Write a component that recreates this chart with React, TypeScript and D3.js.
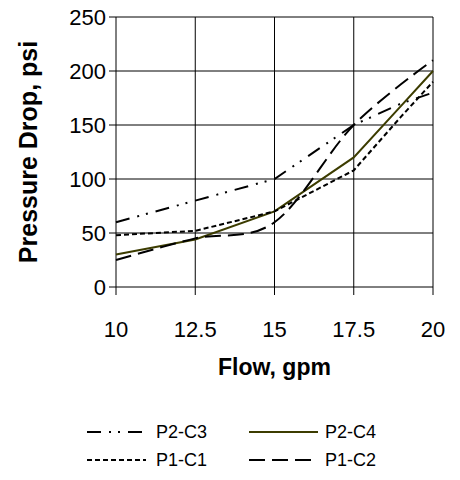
import React from "react";
import * as d3 from "d3";

const xTicks = [10, 12.5, 15, 17.5, 20];
const yTicks = [0, 50, 100, 150, 200, 250];

const p2c3X = [10, 12.5, 15, 17.5, 19, 20];
const p2c3Y = [60, 80, 100, 150, 170, 180];
const p2c4X = [10, 12.5, 15, 17.5, 19, 20];
const p2c4Y = [30, 44, 70, 120, 168, 200];
const p1c1X = [10, 12.5, 15, 17.5, 19, 20];
const p1c1Y = [48, 52, 70, 108, 158, 190];
const p1c2X = [10, 12.5, 15, 17.5, 20];
const p1c2Y = [25, 45, 60, 150, 210];

const seriesNames = ["P2-C3", "P2-C4", "P1-C1", "P1-C2"];

export default function App() {
  const W = 460, H = 480;
  const left = 116, right = 433, top = 17, bottom = 287;
  const x = d3.scaleLinear().domain([10, 20]).range([left, right]);
  const y = d3.scaleLinear().domain([0, 250]).range([bottom, top]);
  const font = "Arial, 'Liberation Sans', sans-serif";

  const mk = (xs: number[], ys: number[], curve: any) =>
    d3.line<number>().x((_, i) => x(xs[i])).y((d) => y(d)).curve(curve)(ys) || "";

  const series = [
    { name: "P2-C3", d: mk(p2c3X, p2c3Y, d3.curveLinear), color: "#000", dash: "14,8,2,7,2,8" },
    { name: "P2-C4", d: mk(p2c4X, p2c4Y, d3.curveLinear), color: "#3c3c00", dash: "" },
    { name: "P1-C1", d: mk(p1c1X, p1c1Y, d3.curveLinear), color: "#000", dash: "5,3" },
    { name: "P1-C2", d: mk(p1c2X, p1c2Y, d3.curveCardinal.tension(0)), color: "#000", dash: "16,7" },
  ];

  const legendPos = [
    { x0: 87, x1: 142, ty: 432, tx: 156 },
    { x0: 249, x1: 318, ty: 432, tx: 325 },
    { x0: 87, x1: 146, ty: 460, tx: 156 },
    { x0: 249, x1: 318, ty: 460, tx: 325 },
  ];

  return (
    <svg width={W} height={H} style={{ position: "absolute", left: 0, top: 0 }} fontFamily={font}>
      <rect width={W} height={H} fill="#fff" />
      {yTicks.map((t) => (
        <g key={"y" + t}>
          <line x1={left - 7} x2={right} y1={y(t)} y2={y(t)} stroke="#000" strokeWidth={1} />
          <text x={left - 10} y={y(t)} dy="0.36em" textAnchor="end" fontSize={22}>{t}</text>
        </g>
      ))}
      {xTicks.map((t) => (
        <g key={"x" + t}>
          <line x1={x(t)} x2={x(t)} y1={top} y2={bottom + 8} stroke="#000" strokeWidth={1} />
          <text x={x(t)} y={bottom + 50} textAnchor="middle" fontSize={22}>{t}</text>
        </g>
      ))}
      {series.map((s) => (
        <path key={s.name} d={s.d} fill="none" stroke={s.color} strokeWidth={2} strokeDasharray={s.dash || undefined} />
      ))}
      <text x={(left + right) / 2} y={375} textAnchor="middle" fontSize={23} fontWeight="bold">Flow, gpm</text>
      <text transform={`translate(37,${(top + bottom) / 2}) rotate(-90)`} textAnchor="middle" fontSize={25} fontWeight="bold">Pressure Drop, psi</text>
      {series.map((s, i) => {
        const p = legendPos[i];
        return (
          <g key={"l" + s.name}>
            <line x1={p.x0} x2={p.x1} y1={p.ty} y2={p.ty} stroke={s.color} strokeWidth={2} strokeDasharray={s.dash || undefined} />
            <text x={p.tx} y={p.ty} dy="0.36em" fontSize={18}>{seriesNames[i]}</text>
          </g>
        );
      })}
    </svg>
  );
}
